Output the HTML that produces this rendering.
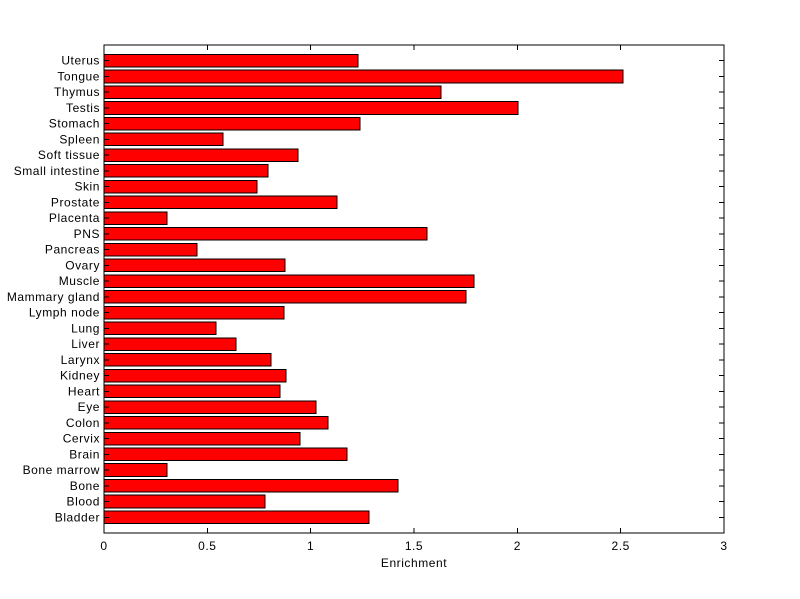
<!DOCTYPE html>
<html><head><meta charset="utf-8"><style>body{margin:0;background:#fff}svg{display:block}text{font-family:"Liberation Sans",Arial,sans-serif;font-size:12px;fill:#000;letter-spacing:0.55px}</style></head>
<body>
<svg id="s" width="800" height="599" xmlns="http://www.w3.org/2000/svg">
<rect width="800" height="599" fill="#fff"/>
<g id="g" shape-rendering="crispEdges"></g>
</svg>
<script>
const names=["Bladder","Blood","Bone","Bone marrow","Brain","Cervix","Colon","Eye","Heart","Kidney","Larynx","Liver","Lung","Lymph node","Mammary gland","Muscle","Ovary","Pancreas","PNS","Placenta","Prostate","Skin","Small intestine","Soft tissue","Spleen","Stomach","Testis","Thymus","Tongue","Uterus"];
const vals=[1.282,0.779,1.423,0.305,1.176,0.948,1.084,1.026,0.852,0.881,0.808,0.639,0.542,0.871,1.752,1.790,0.876,0.450,1.563,0.305,1.127,0.740,0.794,0.939,0.576,1.239,2.003,1.631,2.511,1.229];
const L=104,R=724,T=45,B=533,sx=(R-L)/3,sy=(B-T)/31;
let h='';
names.forEach((n,i)=>{const c=B-(i+1)*sy,bh=0.8*sy;
h+=`<rect x="${L}" y="${c-bh/2}" width="${vals[i]*sx}" height="${bh}" fill="#f00" stroke="#000" stroke-width="1"/>`;
h+=`<text x="${L-4}" y="${c+4}" text-anchor="end">${n}</text>`;
h+=`<line x1="${L}" y1="${c}" x2="${L+5}" y2="${c}" stroke="#000"/><line x1="${R}" y1="${c}" x2="${R-5}" y2="${c}" stroke="#000"/>`;});
for(let k=0;k<=6;k++){const x=L+k*0.5*sx;
h+=`<line x1="${x}" y1="${B}" x2="${x}" y2="${B-5}" stroke="#000"/><line x1="${x}" y1="${T}" x2="${x}" y2="${T+5}" stroke="#000"/>`;
h+=`<text x="${x}" y="${B+17}" text-anchor="middle">${k*0.5}</text>`;}
h+=`<rect x="${L}" y="${T}" width="${R-L}" height="${B-T}" fill="none" stroke="#000"/>`;
h+=`<text x="${(L+R)/2}" y="567" text-anchor="middle">Enrichment</text>`;
document.getElementById('g').innerHTML=h;
</script>
</body></html>
